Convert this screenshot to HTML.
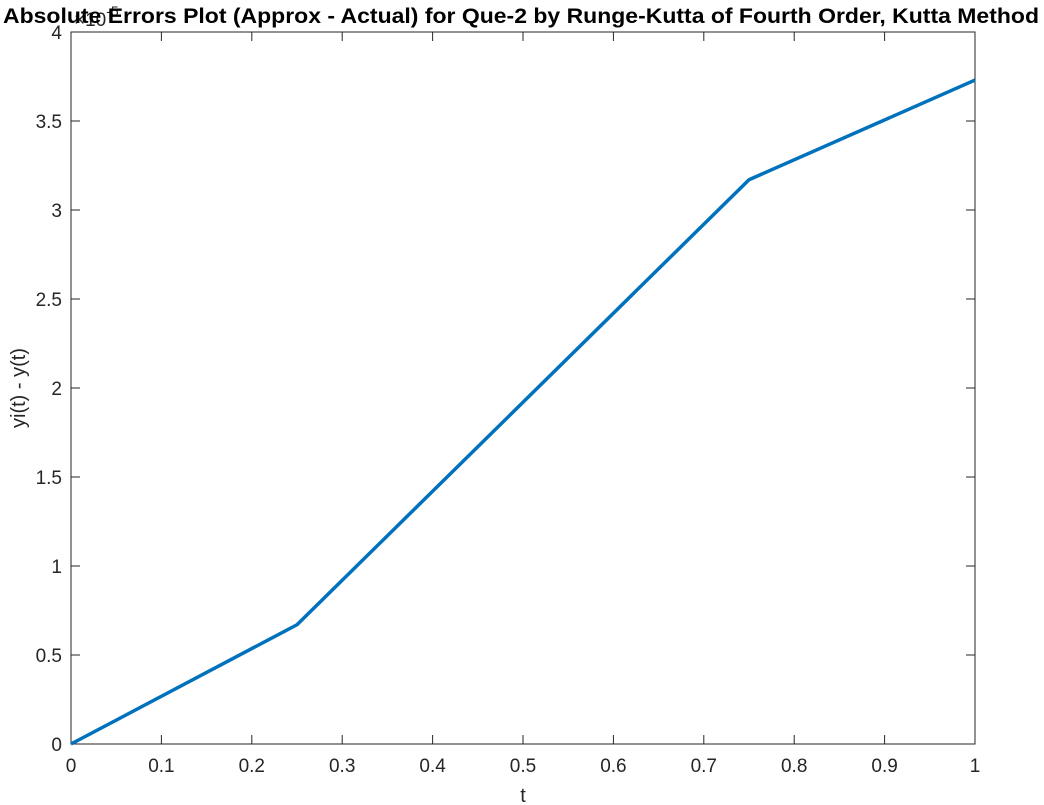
<!DOCTYPE html>
<html><head><meta charset="utf-8"><style>
body{margin:0;background:#fff;}
svg{display:block;font-family:"Liberation Sans",sans-serif;}
</style></head><body>
<svg id="c" width="1044" height="805" viewBox="0 0 1044 805">
<rect width="1044" height="805" fill="#fff"/>
<g id="axes"></g>
<text x="74" y="26" font-size="19" fill="#262626">×10<tspan dy="-10" font-size="14">-5</tspan></text>
<text x="521" y="23" text-anchor="middle" font-size="21.5" font-weight="bold" fill="#000" textLength="1036" lengthAdjust="spacingAndGlyphs">Absolute Errors Plot (Approx - Actual) for Que-2 by Runge-Kutta of Fourth Order, Kutta Method</text>
<text x="523" y="802" text-anchor="middle" font-size="20" fill="#262626">t</text>
<text transform="translate(25,388) rotate(-90)" text-anchor="middle" font-size="20" fill="#262626">yi(t) - y(t)</text>
</svg>
<script>
const tValues=[0,0.25,0.5,0.75,1];
const errValues=[0,0.67,1.92,3.17,3.73];
const xTicks=[0,0.1,0.2,0.3,0.4,0.5,0.6,0.7,0.8,0.9,1];
const xTickLabels=["0","0.1","0.2","0.3","0.4","0.5","0.6","0.7","0.8","0.9","1"];
const yTicks=[0,0.5,1,1.5,2,2.5,3,3.5,4];
const yTickLabels=["0","0.5","1","1.5","2","2.5","3","3.5","4"];
const L=71,R=975,T=32,B=744;
const sx=v=>L+(R-L)*v;
const sy=v=>B-(B-T)*v/4;
const NS="http://www.w3.org/2000/svg";
const g=document.getElementById('axes');
function mk(tag,a){const e=document.createElementNS(NS,tag);for(const k in a)e.setAttribute(k,a[k]);g.appendChild(e);return e;}
const box=mk('rect',{x:L,y:T,width:R-L,height:B-T,fill:'none',stroke:'#262626','stroke-width':1});


xTicks.forEach((v,i)=>{
 const x=sx(v);
 const t1=mk('line',{x1:x,x2:x,y1:B,y2:B-9,stroke:'#262626'});
 
 
 const t2=mk('line',{x1:x,x2:x,y1:T,y2:T+9,stroke:'#262626'});
 
 
 const tx=mk('text',{x:x,y:B+28,'text-anchor':'middle','font-size':19,fill:'#262626'});
 tx.textContent=xTickLabels[i];
 
 
});
yTicks.forEach((v,i)=>{
 const y=sy(v);
 const t1=mk('line',{x1:L,x2:L+9,y1:y,y2:y,stroke:'#262626'});
 
 
 const t2=mk('line',{x1:R,x2:R-9,y1:y,y2:y,stroke:'#262626'});
 
 
 const tx=mk('text',{x:L-9,y:y+7,'text-anchor':'end','font-size':19,fill:'#262626'});
 tx.textContent=yTickLabels[i];
 
 
});
const pts=tValues.map((t,i)=>sx(t)+','+sy(errValues[i])).join(' ');
const line=mk('polyline',{points:pts,fill:'none',stroke:'#0072BD','stroke-width':3.5,'stroke-linejoin':'round'});


</script>
</body></html>
